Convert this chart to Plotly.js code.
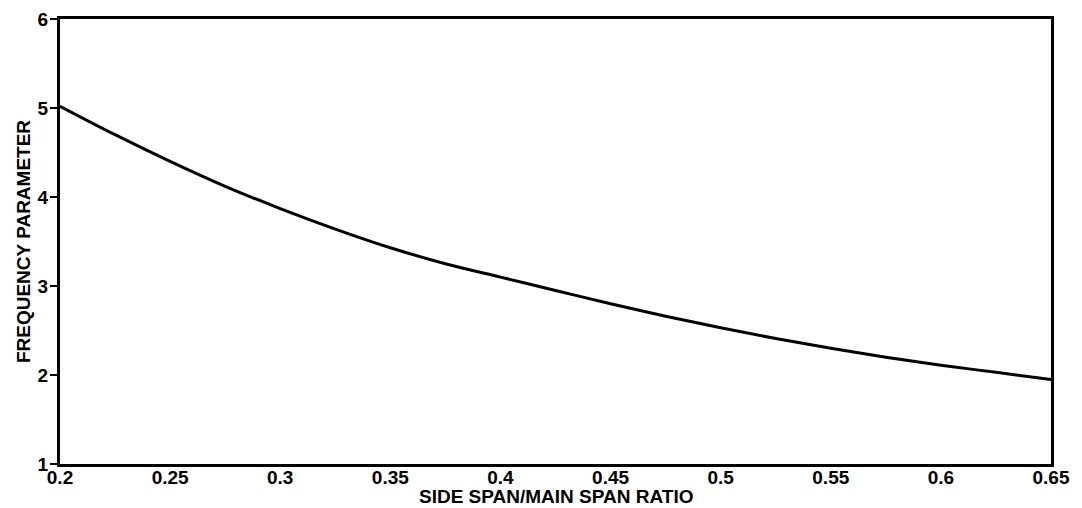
<!DOCTYPE html>
<html>
<head>
<meta charset="utf-8">
<script src="https://cdn.plot.ly/plotly-3.0.1.min.js"></script>
<style>html,body{margin:0;padding:0;background:#fff;}#chart{width:1082px;height:508px;}</style>
</head>
<body>
<div id="chart"></div>
<script>
var ratio = [0.2, 0.225, 0.25, 0.275, 0.3, 0.325, 0.35, 0.375, 0.4, 0.425, 0.45, 0.475, 0.5, 0.525, 0.55, 0.575, 0.6, 0.625, 0.65];
var freqParam = [5.02, 4.70, 4.40, 4.12, 3.87, 3.64, 3.43, 3.25, 3.10, 2.95, 2.80, 2.66, 2.53, 2.41, 2.30, 2.20, 2.11, 2.03, 1.95];
var xTickVals = [0.2, 0.25, 0.3, 0.35, 0.4, 0.45, 0.5, 0.55, 0.6, 0.65];
var xTickText = ['0.2', '0.25', '0.3', '0.35', '0.4', '0.45', '0.5', '0.55', '0.6', '0.65'];
var yTickVals = [1, 2, 3, 4, 5, 6];
var xTitle = 'SIDE SPAN/MAIN SPAN RATIO';
var yTitle = 'FREQUENCY PARAMETER';

var fontFam = 'Liberation Sans, Arial, sans-serif';
var trace = {
  x: ratio, y: freqParam, type: 'scatter', mode: 'lines',
  line: {color: '#000', width: 3, shape: 'spline'},
  hoverinfo: 'skip'
};
var layout = {
  width: 1082, height: 508,
  margin: {l: 60, r: 31, t: 19, b: 44},
  paper_bgcolor: '#fff', plot_bgcolor: '#fff',
  showlegend: false,
  font: {family: fontFam, color: '#000', size: 18, weight: 'bold'},
  xaxis: {
    range: [0.2, 0.65], tickvals: xTickVals, ticktext: xTickText,
    ticks: '', showgrid: false, zeroline: false,
    showline: true, linecolor: '#000', linewidth: 3, mirror: true,
    tickfont: {family: fontFam, size: 19, color: '#000', weight: 'bold'},
    ticklabelstandoff: -6
  },
  yaxis: {
    range: [1, 6], tickvals: yTickVals,
    ticks: 'outside', ticklen: 7, tickwidth: 2, tickcolor: '#000',
    showgrid: false, zeroline: false,
    showline: true, linecolor: '#000', linewidth: 3, mirror: true,
    tickfont: {family: fontFam, size: 19, color: '#000', weight: 'bold'},
    ticklabelstandoff: -2,
    title: {text: yTitle, font: {family: fontFam, size: 19, color: '#000', weight: 'bold'}, standoff: 2}
  },
  annotations: [{
    text: xTitle, xref: 'paper', yref: 'paper', x: 0.5, y: -0.073,
    xanchor: 'center', yanchor: 'middle', showarrow: false,
    font: {family: fontFam, size: 19, color: '#000', weight: 'bold'}
  }]
};
Plotly.newPlot('chart', [trace], layout, {displayModeBar: false, staticPlot: true});
</script>
</body>
</html>
